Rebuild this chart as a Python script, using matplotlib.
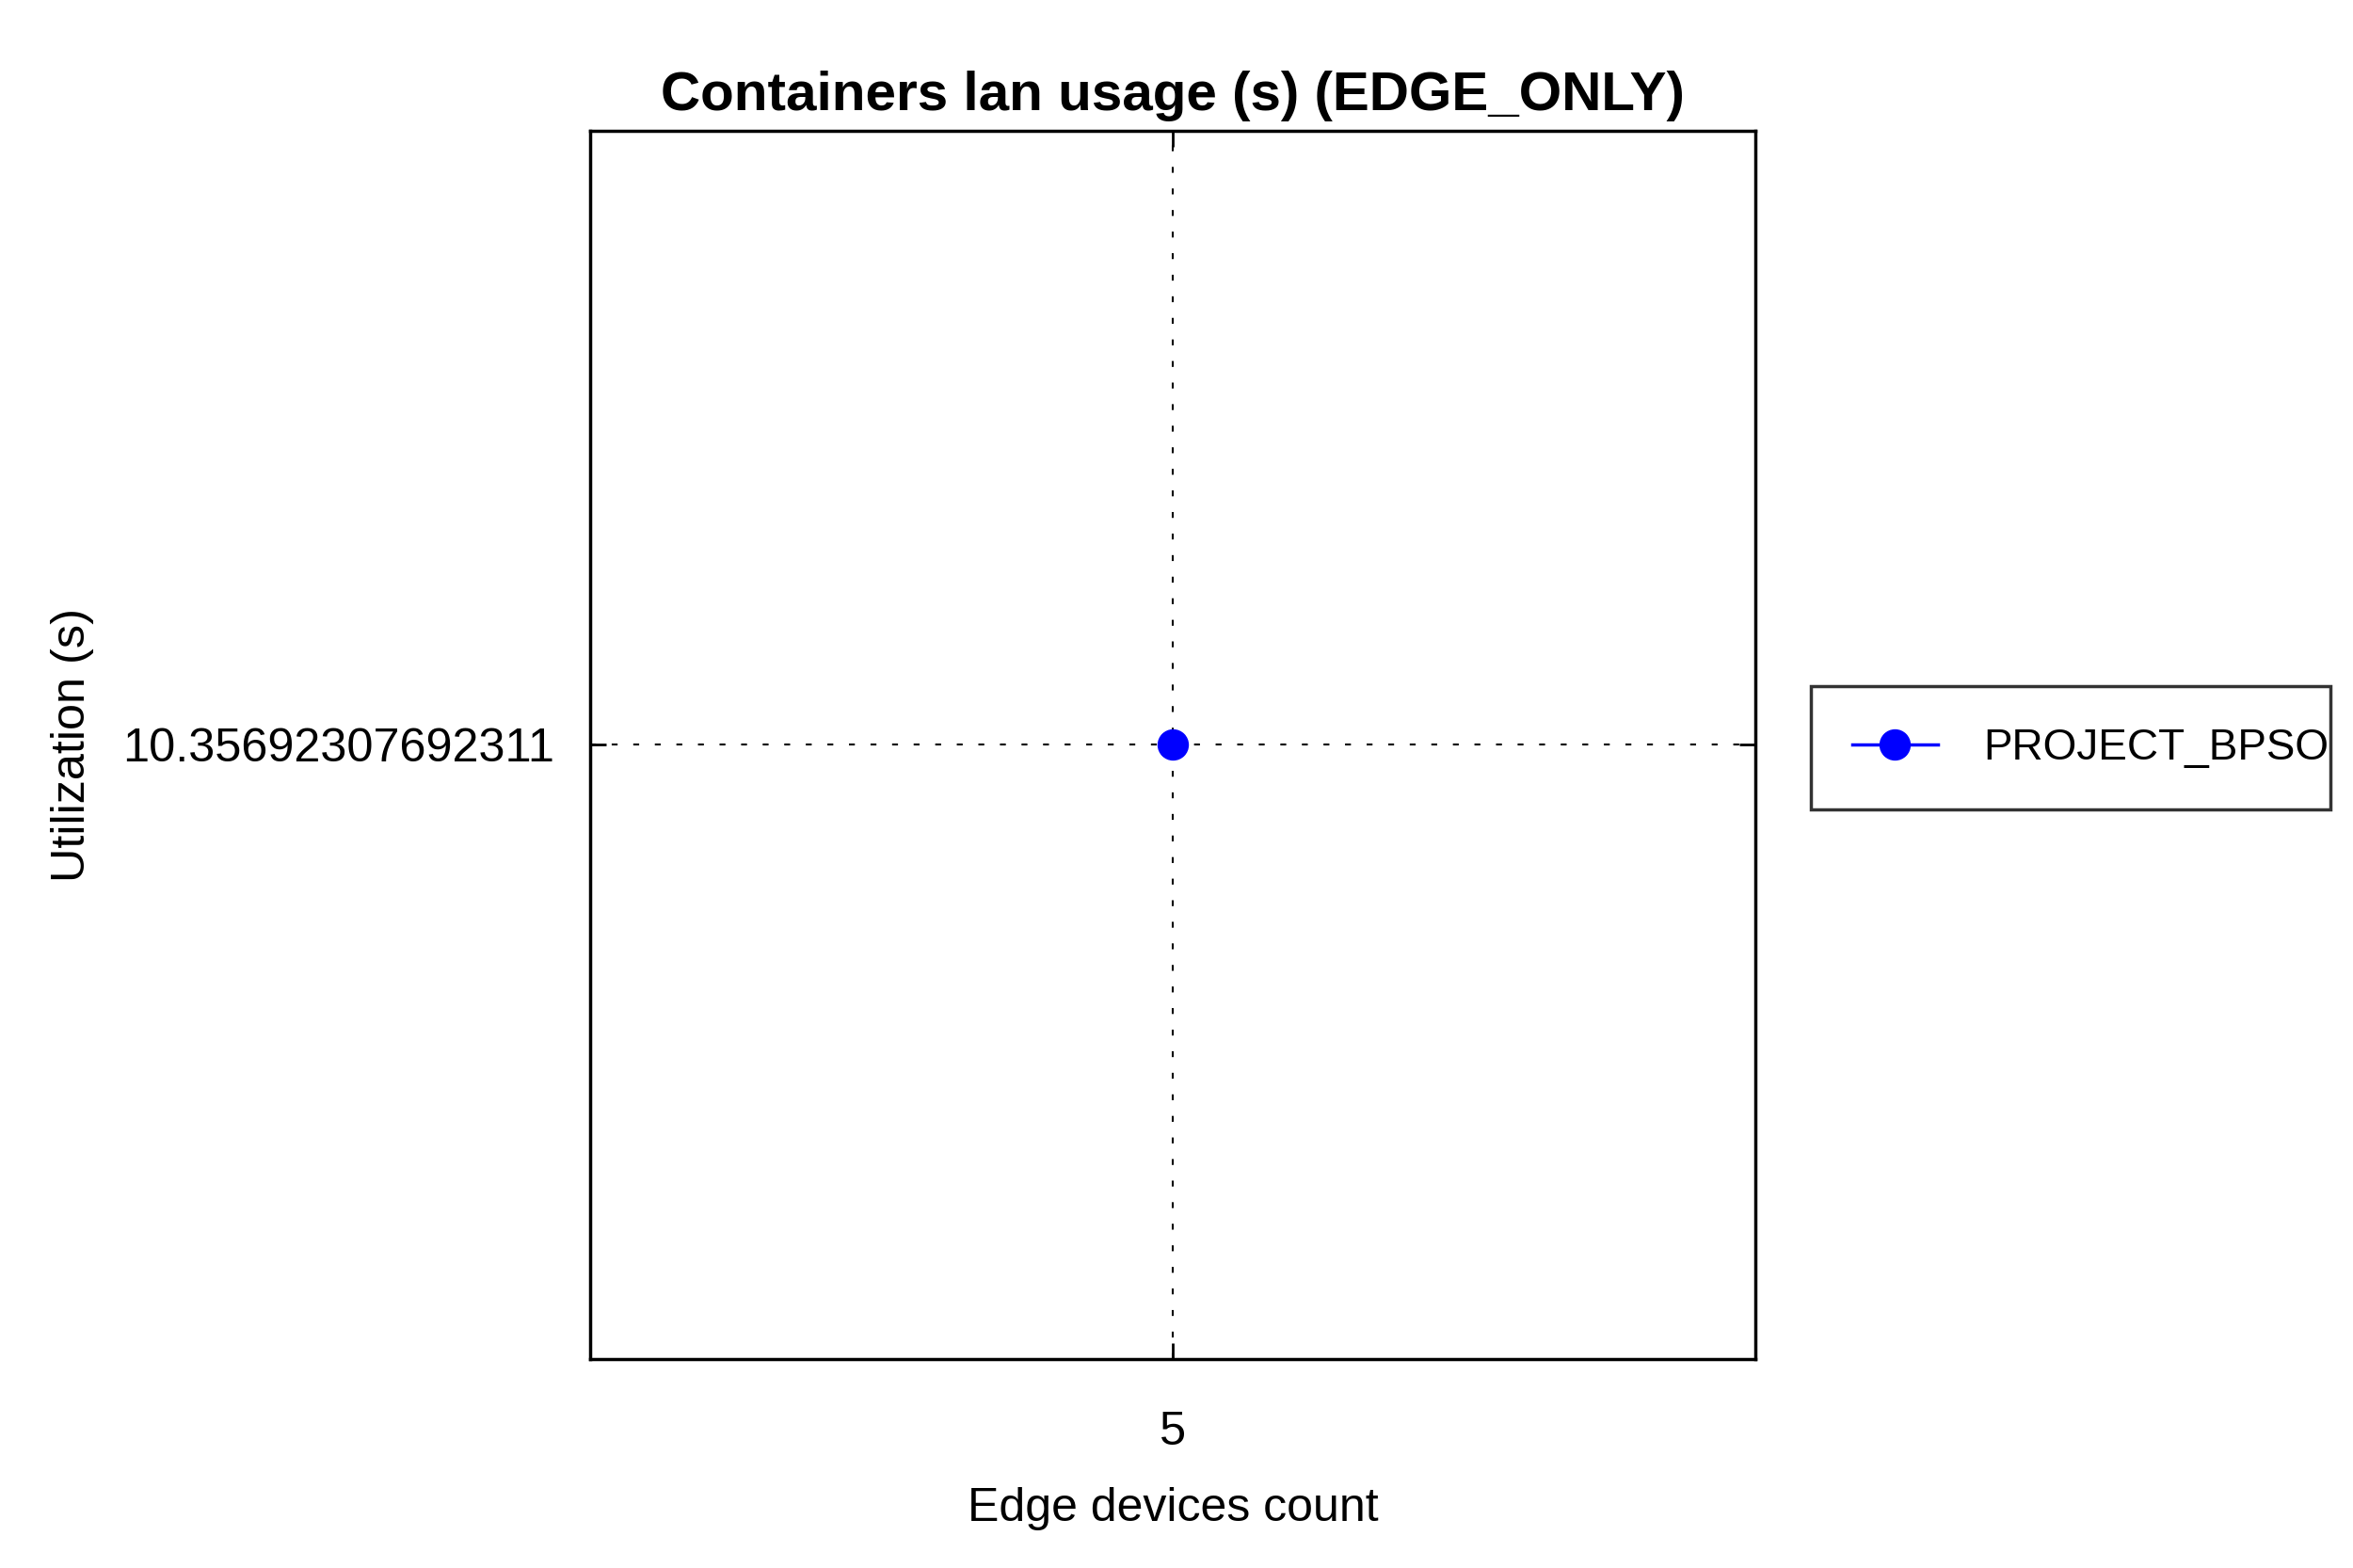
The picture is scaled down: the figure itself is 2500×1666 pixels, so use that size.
import matplotlib
matplotlib.use("Agg")
import matplotlib.pyplot as plt

edge_counts = [5]
project_bpso = [10.35692307692311]
ytick_labels = ["10.35692307692311"]
xtick_labels = ["5"]

plt.rcParams['font.family'] = ['Liberation Sans', 'DejaVu Sans']

fig = plt.figure(figsize=(25, 16.66), dpi=100)
ax = fig.add_axes([0.2508, 0.1333, 0.746 - 0.2508, 0.9166 - 0.1333])

ax.plot(edge_counts, project_bpso, '-o', color='#0000ff', markersize=23,
        linewidth=2.5, label='PROJECT_BPSO', zorder=3)

ax.set_xlim(edge_counts[0] - 1, edge_counts[0] + 1)
ax.set_ylim(project_bpso[0] - 1, project_bpso[0] + 1)
ax.set_xticks(edge_counts)
ax.set_xticklabels(xtick_labels)
ax.set_yticks(project_bpso)
ax.set_yticklabels(ytick_labels)

ax.tick_params(axis='both', direction='in', length=12, width=2,
               labelsize=36.3, top=True, right=True)
ax.tick_params(axis='y', pad=27)
ax.tick_params(axis='x', pad=40)
for s in ax.spines.values():
    s.set_linewidth(2.5)
ax.grid(True, linestyle=(0, (3, 8)), color='black', linewidth=1.5)

ax.set_title('Containers lan usage (s) (EDGE_ONLY)', fontsize=42,
             fontweight='bold', pad=16)
ax.set_xlabel('Edge devices count', fontsize=36, labelpad=25)
ax.set_ylabel('Utilization (s)', fontsize=36.3, labelpad=22)

leg = fig.legend(loc='upper left',
                 bbox_to_anchor=(1924 / 2500, 1 - 854 / 1666, 552 / 2500, 125 / 1666),
                 bbox_transform=fig.transFigure, mode='expand', fontsize=33,
                 frameon=True, fancybox=False, edgecolor='black', borderpad=0.95,
                 handlelength=2.0, handletextpad=1.05, borderaxespad=0)
leg.get_frame().set_linewidth(2.5)

fig.savefig('out.png', dpi=100, facecolor='white')
